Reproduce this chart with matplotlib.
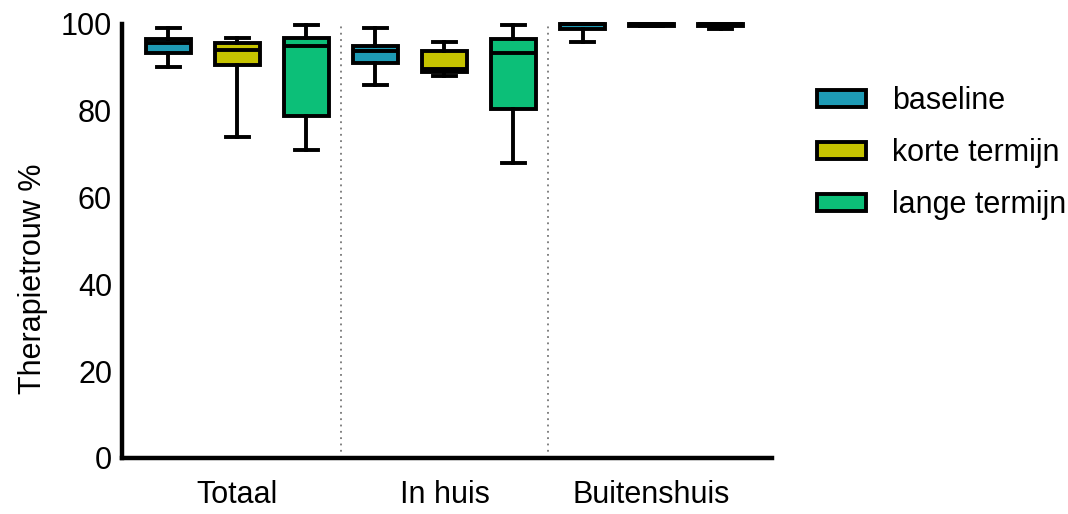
import matplotlib.pyplot as plt
from matplotlib.patches import Patch

plt.rcParams['font.family'] = ['Liberation Sans', 'DejaVu Sans']

groups = ['Totaal', 'In huis', 'Buitenshuis']
series = ['baseline', 'korte termijn', 'lange termijn']
colors = ['#1e9bb5', '#c6c300', '#0cbf78']

# box stats per series, one entry per group: (whislo, q1, med, q3, whishi)
baseline = [(90.0, 93.3, 95.5, 96.5, 99.0),
            (85.9, 90.9, 93.8, 94.9, 99.0),
            (95.9, 98.8, 100.0, 100.0, 100.0)]
korte = [(74.0, 90.6, 94.0, 95.5, 96.8),
         (87.9, 88.9, 89.5, 93.8, 95.9),
         (99.5, 99.6, 100.0, 100.0, 100.0)]
lange = [(71.0, 78.8, 95.0, 96.7, 99.8),
         (67.9, 80.4, 93.2, 96.5, 99.8),
         (98.8, 99.5, 100.0, 100.0, 100.0)]
data = [baseline, korte, lange]

fig = plt.figure(figsize=(10.68, 5.14), dpi=100)
ax = fig.add_axes([0.114, 0.109, 0.609, 0.853])

offs = [-0.333, 0.0, 0.333]
lw = 2.8
for si, stats_list in enumerate(data):
    stats = []
    for lo, q1, med, q3, hi in stats_list:
        stats.append(dict(whislo=lo, q1=q1, med=med, q3=q3, whishi=hi, fliers=[]))
    pos = [g + offs[si] for g in range(len(groups))]
    ax.bxp(stats, positions=pos, widths=0.217, patch_artist=True, showfliers=False,
           manage_ticks=False,
           boxprops=dict(facecolor=colors[si], edgecolor='black', linewidth=lw),
           medianprops=dict(color='black', linewidth=lw),
           whiskerprops=dict(color='black', linewidth=lw),
           capprops=dict(color='black', linewidth=lw),
           capwidths=0.11)

for xd in [0.5, 1.5]:
    ax.plot([xd, xd], [0, 100], color='#777777', linestyle=(0, (1, 2.5)), linewidth=1.3)

ax.set_xlim(-0.558, 2.582)
ax.set_ylim(0, 101)
ax.spines['left'].set_bounds(0, 100)
ax.spines['top'].set_visible(False)
ax.spines['right'].set_visible(False)
for s in ['left', 'bottom']:
    ax.spines[s].set_linewidth(3.2)
ax.set_yticks([0, 20, 40, 60, 80, 100])
ax.set_xticks(range(len(groups)))
ax.set_xticklabels(groups)
ax.tick_params(axis='y', length=0, pad=7, labelsize=22)
ax.tick_params(axis='x', length=0, pad=16, labelsize=22)
ax.set_ylabel('Therapietrouw %', fontsize=22)
ax.yaxis.set_label_coords(-0.114, 0.408)

handles = [Patch(facecolor=c, edgecolor='black', linewidth=2.8) for c in colors]
fig.legend(handles, series, loc='upper left', bbox_to_anchor=(0.765, 0.832),
           frameon=False, fontsize=22, handlelength=1.6, handleheight=0.45,
           handletextpad=0.85, labelspacing=0.72, borderpad=0, borderaxespad=0)

fig.savefig('out.png', dpi=100)
